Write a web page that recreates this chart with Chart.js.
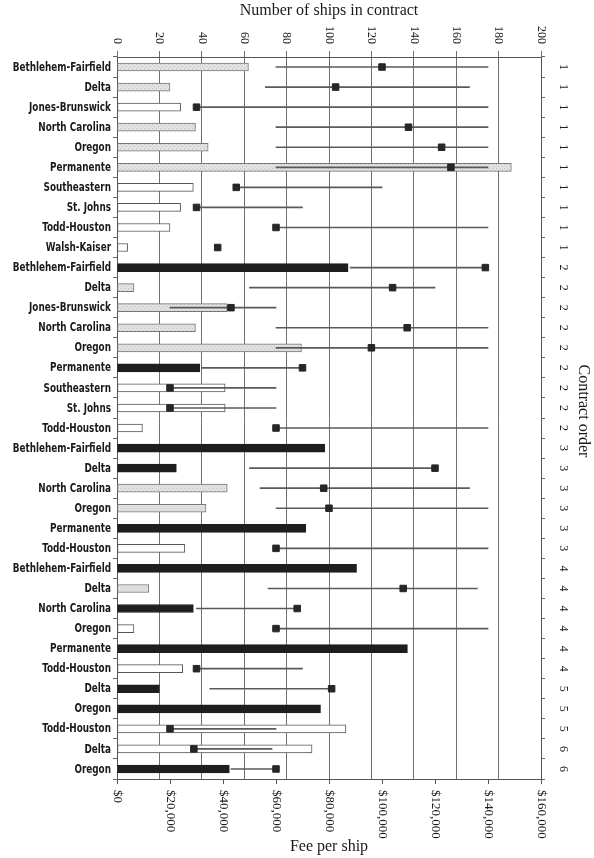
<!DOCTYPE html>
<html>
<head>
<meta charset="utf-8">
<title>Ships in contract and fee per ship</title>
<script src="https://cdn.jsdelivr.net/npm/chart.js@4.4.0/dist/chart.umd.min.js"></script>
<style>
html,body{margin:0;background:#fff}
#wrap{width:594px;height:858px}
</style>
</head>
<body>
<div id="wrap"><canvas id="c"></canvas></div>
<script>
/* ─── DATA ──────────────────────────────────────────── */
const YARDS=['Bethlehem-Fairfield','Delta','Jones-Brunswick','North Carolina','Oregon','Permanente','Southeastern','St. Johns','Todd-Houston','Walsh-Kaiser',
  'Bethlehem-Fairfield','Delta','Jones-Brunswick','North Carolina','Oregon','Permanente','Southeastern','St. Johns','Todd-Houston',
  'Bethlehem-Fairfield','Delta','North Carolina','Oregon','Permanente','Todd-Houston',
  'Bethlehem-Fairfield','Delta','North Carolina','Oregon','Permanente','Todd-Houston',
  'Delta','Oregon','Todd-Houston',
  'Delta','Oregon'];
const ORDER=[1,1,1,1,1,1,1,1,1,1, 2,2,2,2,2,2,2,2,2, 3,3,3,3,3,3, 4,4,4,4,4,4, 5,5,5, 6,6];
// ships in contract (top axis)
const SHIPS=[62,25,30,37,43,186,36,30,25,5, 109,8,52,37,87,39,51,51,12, 98,28,52,42,89,32, 113,15,36,8,137,31, 20,96,108, 92,53];
// bar shading: g = stippled grey, w = white, b = black
const SHADE=['g','g','w','g','g','g','w','w','w','w', 'b','g','g','g','g','b','w','w','w', 'b','b','g','g','b','w', 'b','g','b','w','b','w', 'b','b','w', 'w','b'];
// fee per ship (bottom axis): marker, low and high of the range line
const FEE=[100000,82500,30000,110000,122500,126000,45000,30000,60000,38000,
  139000,104000,43000,109500,96000,70000,20000,20000,60000,
  null,120000,78000,80000,null,60000,
  null,108000,68000,60000,null,30000,
  81000,null,20000,
  29000,60000];
const FEE_LO=[60000,56000,30000,60000,60000,60000,45000,30000,60000,null,
  88000,50000,20000,60000,60000,32000,20000,20000,60000,
  null,50000,54000,60000,null,60000,
  null,57000,30000,60000,null,30000,
  35000,null,20000,
  29000,43000];
const FEE_HI=[140000,133000,140000,140000,140000,140000,100000,70000,140000,null,
  139000,120000,60000,140000,140000,70000,60000,60000,140000,
  null,120000,133000,140000,null,140000,
  null,136000,68000,140000,null,70000,
  81000,null,60000,
  58500,60000];
const SHIP_TICKS=[0,20,40,60,80,100,120,140,160,180,200];
const FEE_TICKS=[0,20000,40000,60000,80000,100000,120000,140000,160000];

/* ─── STYLE HELPERS ─────────────────────────────────── */
const ctx0=document.getElementById('c').getContext('2d');
function stipple(){
  const p=document.createElement('canvas');p.width=p.height=4;
  const g=p.getContext('2d');
  g.fillStyle='#e2e2e2';g.fillRect(0,0,4,4);
  g.fillStyle='#c2c2c2';g.fillRect(0,0,1,1);g.fillRect(2,2,1,1);
  return ctx0.createPattern(p,'repeat');
}
const GREY=stipple();
const FILLS={g:GREY,w:'#ffffff',b:'#1e1e1e'};
const EDGES={g:'#777777',w:'#555555',b:'#1e1e1e'};
const SERIF='"Liberation Serif","DejaVu Serif",serif';
const NARROW='bold 12px "DejaVu Sans Condensed","DejaVu Sans",sans-serif';

/* ─── TEXT (rotated ticks, narrow yard names, titles) ─ */
const ink={id:'ink',afterDraw(ch){
  const {ctx,chartArea:a}=ch,{x,xTop,y,yR}=ch.scales;
  ctx.save();ctx.fillStyle='#1a1a1a';ctx.textBaseline='middle';
  // yard names, squeezed to look like the condensed face of the original
  ctx.font=NARROW;ctx.textAlign='right';
  YARDS.forEach((n,i)=>{
    ctx.save();ctx.translate(a.left-6,y.getPixelForTick(i)+0.5);ctx.scale(0.82,1);
    ctx.fillText(n,0,0);ctx.restore();
  });
  ctx.font='12px '+SERIF;
  xTop.ticks.forEach(t=>{
    ctx.save();ctx.translate(xTop.getPixelForValue(t.value),a.top-13);ctx.rotate(Math.PI/2);
    ctx.textAlign='right';ctx.fillText(String(t.value),0,0);ctx.restore();
  });
  ctx.font='13px '+SERIF;
  x.ticks.forEach(t=>{
    ctx.save();ctx.translate(x.getPixelForValue(t.value),a.bottom+11);ctx.rotate(Math.PI/2);
    ctx.textAlign='left';ctx.fillText('$'+t.value.toLocaleString('en-US'),0,0);ctx.restore();
  });
  ctx.font='12px '+SERIF;
  ORDER.forEach((o,i)=>{
    ctx.save();ctx.translate(a.right+22,yR.getPixelForTick(i));ctx.rotate(Math.PI/2);
    ctx.textAlign='center';ctx.fillText(String(o),0,0);ctx.restore();
  });
  ctx.font='16px '+SERIF;ctx.textAlign='center';
  const mid=(a.left+a.right)/2;
  ctx.fillText('Number of ships in contract',mid,11);
  ctx.fillText('Fee per ship',mid,847);
  ctx.save();ctx.translate(583,411);ctx.rotate(Math.PI/2);ctx.fillText('Contract order',0,0);ctx.restore();
  ctx.restore();
}};

/* ─── CHART ─────────────────────────────────────────── */
new Chart(ctx0,{
  data:{labels:YARDS,datasets:[
    {type:'line',label:'Fee per ship',data:FEE,xAxisID:'x',yAxisID:'y',showLine:false,
     pointStyle:'rect',pointRadius:4.6,backgroundColor:'#262626',borderColor:'#262626',borderWidth:1,order:0},
    {type:'bar',label:'Fee range',data:FEE_LO.map((v,i)=>v==null?null:[v,FEE_HI[i]]),xAxisID:'x',yAxisID:'y',
     barThickness:1,backgroundColor:'#5a5a5a',grouped:false,order:1},
    {type:'bar',label:'Ships',data:SHIPS,xAxisID:'xTop',yAxisID:'y',barThickness:8,grouped:false,
     backgroundColor:SHADE.map(s=>FILLS[s]),borderColor:SHADE.map(s=>EDGES[s]),borderWidth:1,borderSkipped:false,order:2}
  ]},
  options:{indexAxis:'y',responsive:true,maintainAspectRatio:false,animation:false,
    layout:{padding:0},
    plugins:{legend:{display:false},tooltip:{enabled:false}},
    scales:{
      xTop:{type:'linear',position:'top',min:0,max:200,
        afterBuildTicks:s=>{s.ticks=SHIP_TICKS.map(v=>({value:v}));},afterFit:s=>{s.height=57;},
        grid:{color:'#707070',lineWidth:1,tickLength:6},border:{color:'#555'},ticks:{display:false}},
      x:{type:'linear',position:'bottom',min:0,max:160000,
        afterBuildTicks:s=>{s.ticks=FEE_TICKS.map(v=>({value:v}));},afterFit:s=>{s.height=79;},
        grid:{drawOnChartArea:false,tickLength:5,color:'#555'},border:{color:'#555'},ticks:{display:false}},
      y:{type:'category',position:'left',offset:true,afterFit:s=>{s.width=117;},
        grid:{offset:true,drawOnChartArea:false,tickLength:4,color:'#666'},border:{color:'#555'},
        ticks:{display:false,autoSkip:false}},
      yR:{type:'category',position:'right',labels:ORDER.map(String),offset:true,afterFit:s=>{s.width=53;},
        grid:{offset:true,drawOnChartArea:false,tickLength:4,color:'#666'},border:{color:'#555'},
        ticks:{display:false,autoSkip:false}}
    }
  },
  plugins:[ink]
});
</script>
</body>
</html>
